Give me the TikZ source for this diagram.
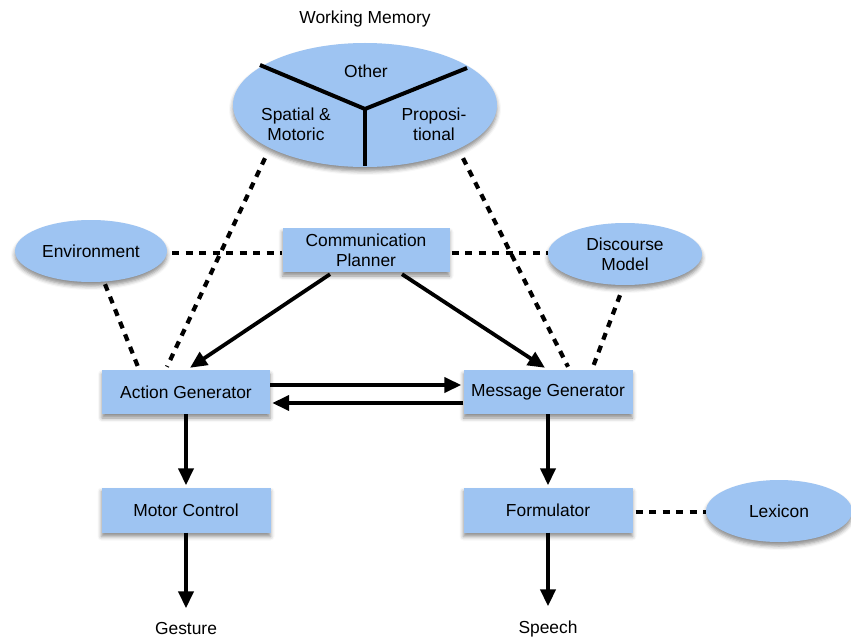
\documentclass[tikz,border=0pt]{standalone}
\usepackage{fontspec}
\setmainfont{Liberation Sans}
\usetikzlibrary{arrows.meta,shapes.geometric,shadows.blur}
\definecolor{boxblue}{RGB}{158,196,242}
\begin{document}
\begin{tikzpicture}[x=1pt,y=-1pt,
  every node/.style={font=\fontsize{17.4}{20}\selectfont, align=center},
  softshadow/.style={blur shadow={shadow xshift=0pt, shadow yshift=-4pt,
      shadow blur radius=4pt, shadow opacity=45}},
  unit/.style={fill=boxblue, inner sep=0pt, softshadow},
  store/.style={ellipse, fill=boxblue, inner sep=0pt, softshadow},
  dashln/.style={line width=4.2pt, dash pattern=on 7pt off 6.5pt},
  flow/.style={line width=3.8pt, -{Triangle[length=17pt,width=15pt]}},
  divider/.style={line width=4pt}
]
\useasboundingbox (0,0) rectangle (851,639);

% working memory store with its three partitions
\node (wmtitle) at (365,19) {Working Memory};
\node[store, minimum width=264pt, minimum height=124pt] (wm) at (365,105) {};
\draw[divider] (260,65) -- (365,109) -- (467,68);
\draw[divider] (365,109) -- (365,166);
\node (other) at (366,71) {Other};
\node (spatial) at (296,124) {Spatial \&\\Motoric};
\node (prop) at (434,124) {Proposi-\\tional};

% side stores
\node[store, minimum width=152pt, minimum height=62pt] (env) at (91,251) {Environment};
\node[store, minimum width=154pt, minimum height=62pt] (disc) at (625,254) {Discourse\\Model};
\node[store, minimum width=146pt, minimum height=62pt] (lex) at (779,511) {Lexicon};

% processing units
\node[unit, minimum width=167pt, minimum height=44pt] (cp) at (366,250) {Communication\\Planner};
\node[unit, minimum width=168pt, minimum height=44pt] (ag) at (186,392) {Action Generator};
\node[unit, minimum width=169pt, minimum height=44pt] (mg) at (548,392) {Message Generator};
\node[unit, minimum width=169pt, minimum height=45pt] (mc) at (186,510) {Motor Control};
\node[unit, minimum width=169pt, minimum height=45pt] (form) at (548,510) {Formulator};

% outputs
\node (gesture) at (186,629) {Gesture};
\node (speech) at (548,629) {Speech};

% dotted access links
\draw[dashln] ([xshift=5pt,yshift=-2pt]env.east) -- ([yshift=-3pt]cp.west);
\draw[dashln] ([xshift=2pt,yshift=-3pt]cp.east) -- ([yshift=1pt]disc.west);
\draw[dashln] ([xshift=14pt,yshift=-2pt]env.south) -- ([xshift=-48pt,yshift=3pt]ag.north);
\draw[dashln] ([xshift=-100pt,yshift=9pt]wm.south) -- ([xshift=-19pt,yshift=3pt]ag.north);
\draw[dashln] ([xshift=98pt,yshift=9pt]wm.south) -- ([xshift=20pt,yshift=3pt]mg.north);
\draw[dashln] ([xshift=-5pt,yshift=-10pt]disc.south) -- ([xshift=45pt,yshift=3pt]mg.north);
\draw[dashln] ([xshift=3pt,yshift=-2pt]form.east) -- ([yshift=-1pt]lex.west);

% information flow
\draw[flow] ([xshift=-36pt,yshift=-2pt]cp.south) -- ([xshift=4pt,yshift=2pt]ag.north);
\draw[flow] ([xshift=36pt,yshift=-2pt]cp.south) -- ([xshift=-3pt,yshift=2pt]mg.north);
\draw[flow] ([yshift=7pt]ag.east) -- ([xshift=-2pt,yshift=7pt]mg.west);
\draw[flow] ([yshift=-11pt]mg.west) -- ([xshift=2pt,yshift=-11pt]ag.east);
\draw[flow] (ag.south) -- ([yshift=2pt]mc.north);
\draw[flow] (mg.south) -- ([yshift=2pt]form.north);
\draw[flow] (mc.south) -- ([yshift=11pt]gesture.north);
\draw[flow] (form.south) -- ([yshift=11pt]speech.north);
\end{tikzpicture}
\end{document}
